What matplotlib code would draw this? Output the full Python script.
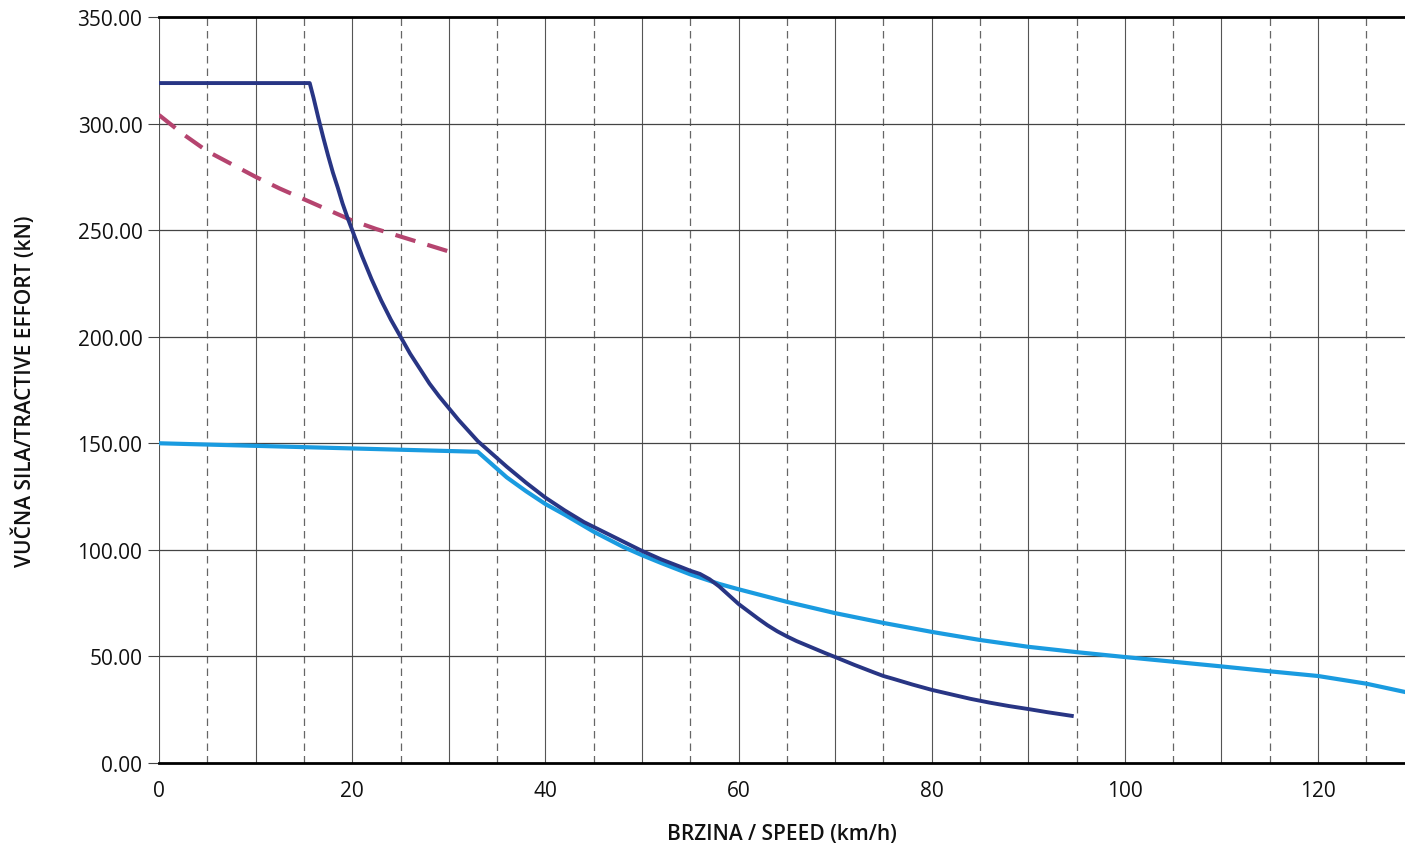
import numpy as np
import matplotlib.pyplot as plt
from matplotlib.ticker import MultipleLocator, FormatStrFormatter

plt.rcParams['font.family'] = ['Open Sans', 'DejaVu Sans']

# Max tractive effort curve (dark blue)
v_max = [0, 15.6, 16, 16.5, 17, 17.5, 18, 18.5, 19, 19.5, 20, 21, 22, 23, 24,
         25, 26, 27, 28, 29, 30, 31, 32, 33, 34, 36, 38, 40, 42, 44, 46, 48,
         50, 52, 54, 55, 56, 57, 58, 59, 60, 61, 62, 63, 64, 65, 66, 67, 68,
         69, 70, 72, 74, 75, 76, 78, 80, 82, 84, 86, 88, 90, 92, 94.5]
f_max = [319, 319, 312, 302.5, 293.5, 285, 277, 270, 262.5, 256, 250, 238,
         227, 217, 208, 200, 192, 185, 178, 172, 166.5, 161, 156, 151, 147,
         139, 131.5, 124.5, 118.5, 113, 108.5, 104, 99.5, 95.5, 92, 90.2,
         88.7, 86.2, 82.8, 78.7, 74.6, 71.2, 67.8, 64.6, 61.8, 59.4, 57.2,
         55.3, 53.4, 51.5, 49.7, 46, 42.5, 40.8, 39.5, 36.8, 34.3, 32.2, 30.1,
         28.3, 26.7, 25.3, 23.8, 22.1]

# Continuous tractive effort curve (light blue)
v_cont = [0, 33, 34, 36, 38, 40, 42, 45, 48, 50, 52, 55, 58, 60, 65, 70, 75,
          80, 85, 90, 95, 100, 105, 110, 115, 120, 125, 129]
f_cont = [150, 146, 142, 134, 127.5, 121.5, 116.5, 108.5, 101.5, 97.5, 93.8,
          88.5, 84, 81.5, 75.6, 70.3, 65.7, 61.5, 57.7, 54.5, 52, 49.7, 47.5,
          45.3, 43, 40.8, 37.2, 33.3]

# Adhesion limit (dashed)
v_adh = [0, 2.5, 5, 7.5, 10, 12.5, 15, 17.5, 20, 22.5, 25, 27.5, 30]
f_adh = [304, 295, 287, 281, 275, 269.5, 264.5, 259.5, 254.5, 250.5, 247,
         243.5, 240]

fig = plt.figure(figsize=(14.05, 8.45), dpi=100)
ax = fig.add_axes([0.1132, 0.0959, 0.8868, 0.8828])

# grid: solid every 10 km/h, dashed at the 5s, solid every 50 kN
for v in range(0, 130, 5):
    if v % 10 == 0:
        ax.axvline(v, color='#555555', lw=0.8, zorder=1)
    else:
        ax.axvline(v, color='#666666', lw=0.9, ls=(0, (6, 4)), zorder=1)
for f in range(50, 350, 50):
    ax.axhline(f, color='#444444', lw=0.9, zorder=1)

ax.plot(v_adh, f_adh, color='#b5446f', lw=3, ls=(0, (5, 3)), zorder=3)
ax.plot(v_cont, f_cont, color='#1a9be0', lw=3, zorder=3)
ax.plot(v_max, f_max, color='#283584', lw=2.8, zorder=4)

ax.set_xlim(0, 129)
ax.set_ylim(0, 350)
ax.xaxis.set_major_locator(MultipleLocator(20))
ax.yaxis.set_major_locator(MultipleLocator(50))
ax.yaxis.set_major_formatter(FormatStrFormatter('%.2f'))

for s in ['right', 'left']:
    ax.spines[s].set_visible(False)
ax.spines['top'].set_linewidth(2)
ax.spines['bottom'].set_linewidth(2)

ax.tick_params(axis='x', length=0, pad=12, labelsize=15, colors='#111111')
ax.tick_params(axis='y', length=8, width=0.8, color='#444444', pad=4,
               labelsize=15, colors='#111111')

ax.set_xlabel('BRZINA / SPEED (km/h)', fontsize=15, fontweight='semibold',
              labelpad=16, color='#111111')
ax.set_ylabel('VUČNA SILA/TRACTIVE EFFORT (kN)', fontsize=15,
              fontweight='semibold', labelpad=30, color='#111111')

fig.savefig('out.png', dpi=100)
